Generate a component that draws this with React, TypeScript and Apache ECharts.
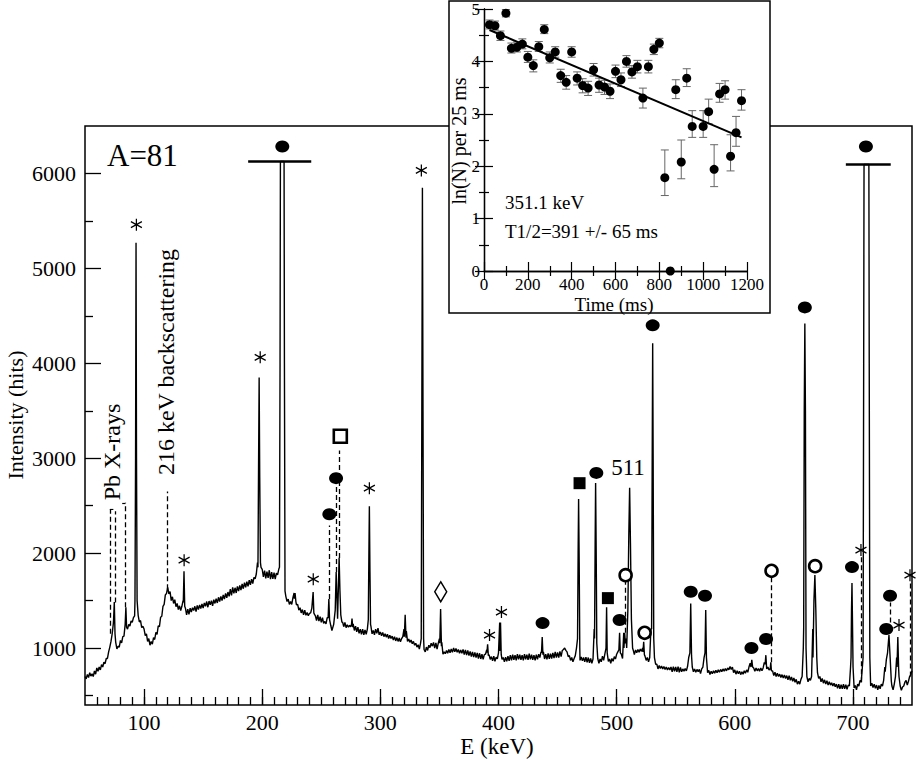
import React, { useEffect, useRef } from "react";
import * as echarts from "echarts";

const FONT = "Liberation Serif";

// ---------- main spectrum: baseline, 1 keV channels starting at 50 keV ----------
const baseStart = 50;
const base050 = [
  700, 675, 722, 690, 740, 705, 728, 700, 758, 725,
  790, 755, 800, 770, 825, 800, 850, 835, 890, 890,
  960, 1010, 1070, 1150, 1260, 1300, 1060, 990, 1020, 1010,
  1080, 1055, 1120, 1125, 1200, 1280, 1200, 1250, 1230, 1285,
  1270, 1320, 1340, 1400, 1380, 1345, 1275, 1290, 1215, 1230,
  1200, 1130, 1150, 1070, 1100, 1030, 1070, 1040, 1110, 1090,
  1165, 1145, 1235, 1225, 1325, 1335, 1440, 1460, 1560, 1575,
  1640, 1570, 1595, 1500, 1540, 1470, 1510, 1435, 1470, 1405,
  1445, 1395, 1440, 1500, 1700, 1420, 1350, 1410, 1355, 1420,
  1380, 1425, 1395, 1440, 1385, 1450, 1405, 1455, 1415, 1465,
];
const base150 = [
  1420, 1475, 1440, 1490, 1430, 1495, 1455, 1500, 1445, 1510,
  1470, 1520, 1475, 1535, 1490, 1545, 1500, 1560, 1515, 1575,
  1530, 1590, 1545, 1620, 1555, 1640, 1575, 1635, 1580, 1650,
  1600, 1660, 1610, 1675, 1625, 1690, 1640, 1700, 1650, 1715,
  1665, 1725, 1680, 1745, 1730, 1780, 1900, 3000, 2200, 1850,
  1830, 1750, 1815, 1735, 1805, 1740, 1820, 1725, 1800, 1730,
  1795, 1725, 1790, 1770, 1830, 3000, 6126, 6126, 3000, 1560,
  1545, 1490, 1515, 1460, 1490, 1460, 1530, 1580, 1520, 1455,
  1460, 1400, 1425, 1370, 1405, 1350, 1400, 1345, 1375, 1340,
  1365, 1370, 1420, 1590, 1360, 1340, 1290, 1350, 1285, 1330,
];
const base250 = [
  1270, 1320, 1260, 1280, 1255, 1320, 1480, 1350, 1240, 1185,
  1250, 1350, 1700, 1500, 1800, 1700, 1380, 1270, 1275, 1225,
  1270, 1215, 1245, 1220, 1240, 1225, 1310, 1255, 1185, 1230,
  1170, 1220, 1155, 1200, 1145, 1200, 1140, 1190, 1145, 1200,
  1300, 2400, 1230, 1150, 1185, 1140, 1200, 1155, 1210, 1140,
  1170, 1130, 1165, 1120, 1150, 1115, 1145, 1100, 1135, 1100,
  1125, 1085, 1120, 1075, 1110, 1070, 1105, 1065, 1100, 1120,
  1200, 1350, 1180, 1070, 1095, 1060, 1085, 1045, 1070, 1030,
  1050, 1010, 1035, 990, 1050, 3000, 3000, 985, 960, 1010,
  975, 1030, 1005, 1050, 1020, 1060, 1000, 1055, 990, 1050,
];
const base350 = [
  1100, 1400, 1060, 935, 960, 940, 975, 945, 985, 950,
  990, 955, 1000, 960, 995, 955, 985, 945, 980, 945,
  985, 930, 980, 925, 975, 920, 965, 910, 960, 905,
  955, 900, 950, 890, 945, 885, 935, 880, 930, 935,
  980, 1040, 930, 880, 910, 865, 915, 860, 905, 885,
  950, 1270, 960, 880, 900, 855, 905, 860, 915, 865,
  925, 870, 930, 875, 925, 870, 935, 880, 930, 875,
  925, 870, 935, 880, 930, 875, 940, 880, 930, 875,
  925, 870, 930, 880, 935, 900, 960, 1115, 960, 885,
  935, 880, 945, 885, 940, 890, 950, 895, 960, 900,
];
const base450 = [
  955, 900, 965, 910, 975, 985, 1000, 975, 960, 910,
  920, 870, 900, 855, 890, 920, 1000, 2000, 2000, 870,
  905, 865, 900, 855, 905, 850, 900, 845, 890, 840,
  885, 1200, 2740, 1100, 890, 840, 885, 855, 915, 870,
  935, 1430, 900, 860, 885, 840, 890, 860, 910, 885,
  935, 960, 1160, 960, 935, 890, 1160, 1000, 1100, 1500,
  1800, 2690, 1500, 1020, 980, 930, 980, 950, 985, 955,
  990, 965, 1000, 1065, 915, 870, 900, 855, 900, 1200,
  4000, 1200, 900, 830, 830, 780, 815, 785, 810, 780,
  805, 775, 800, 770, 795, 770, 800, 750, 805, 755,
];
const base550 = [
  800, 750, 805, 745, 795, 750, 780, 755, 785, 760,
  805, 900, 1300, 900, 800, 750, 780, 745, 775, 750,
  775, 730, 780, 800, 900, 1300, 850, 740, 765, 720,
  755, 730, 760, 735, 765, 740, 770, 745, 775, 750,
  780, 755, 785, 760, 790, 770, 805, 775, 800, 740,
  770, 725, 760, 730, 755, 720, 750, 725, 760, 735,
  770, 745, 800, 840, 875, 830, 790, 755, 790, 760,
  785, 755, 790, 760, 790, 850, 925, 780, 800, 770,
  850, 740, 760, 710, 745, 700, 735, 700, 725, 690,
  720, 685, 715, 680, 710, 665, 710, 660, 695, 650,
];
const base650 = [
  685, 640, 670, 620, 650, 620, 670, 700, 1000, 4000,
  900, 700, 645, 680, 660, 700, 1200, 1770, 1100, 750,
  740, 680, 700, 645, 680, 630, 665, 620, 655, 610,
  645, 610, 635, 600, 630, 592, 620, 575, 620, 570,
  615, 570, 620, 570, 615, 565, 610, 600, 800, 1685,
  800, 580, 605, 560, 620, 600, 660, 640, 800, 6095,
  6095, 6095, 6095, 6095, 650, 600, 630, 585, 620, 575,
  610, 560, 605, 570, 620, 600, 660, 800, 900, 950,
  1050, 1137, 850, 600, 560, 620, 700, 900, 1115, 700,
  600, 555, 590, 600, 640, 660, 610, 650, 700, 720,
  760,
];

// ---------- sharp peaks, [E keV, counts] ----------
const pk75 = [[74.2, 1300], [74.8, 1484], [75.4, 1150]];
const pk84 = [[84.0, 1250], [84.6, 1430], [85.2, 1220]];
const pk93 = [[92.3, 1500], [92.8, 3000], [93.2, 5270], [93.6, 3000], [94.1, 1500]];
const pk134 = [[133.2, 1480], [133.8, 1810], [134.4, 1440]];
const pk197 = [[196.4, 1850], [196.9, 2900], [197.4, 3850], [197.9, 2800], [198.5, 1900]];
const pk216 = [[214.6, 1850], [215.1, 4000], [215.4, 6126], [218.5, 6126], [218.8, 4000], [219.3, 1600]];
const pk228 = [[227.2, 1520], [227.8, 1580], [228.5, 1490]];
const pk243 = [[242.5, 1420], [243.1, 1590], [243.7, 1370]];
const pk256 = [[255.8, 1320], [256.4, 1516], [257.0, 1300]];
const pk263 = [[259.4, 1180], [260.5, 1250], [261.8, 1400], [262.6, 1800], [263.3, 1520], [263.8, 1310], [264.4, 1600], [265.1, 1950], [265.8, 1600], [266.5, 1350], [267.5, 1270]];
const pk276 = [[275.5, 1240], [276.0, 1310], [276.6, 1220]];
const pk290 = [[289.8, 1300], [290.3, 2000], [290.7, 2495], [291.2, 1800], [291.7, 1250]];
const pk321 = [[320.3, 1120], [321.0, 1350], [321.7, 1110]];
const pk335 = [[334.6, 1100], [335.1, 3500], [335.6, 5850], [336.1, 3500], [336.6, 1100]];
const pk351 = [[350.3, 1050], [351.0, 1410], [351.7, 1020]];
const pk390 = [[390.2, 950], [390.8, 1040], [391.4, 920]];
const pk401 = [[401.1, 970], [401.7, 1270], [402.3, 930]];
const pk437 = [[436.4, 950], [437.0, 1115], [437.6, 930]];
const pk467 = [[466.9, 1100], [467.4, 2000], [467.8, 2570], [468.3, 1900], [468.8, 1000]];
const pk482 = [[481.3, 1100], [481.8, 2100], [482.2, 2740], [482.7, 2000], [483.2, 1050]];
const pk491 = [[491.0, 1000], [491.5, 1430], [492.0, 950]];
const pk502 = [[501.9, 980], [502.5, 1160], [503.1, 950]];
const pk506 = [[506.2, 1000], [506.8, 1160], [507.4, 1050]];
const pk511 = [[508.5, 1000], [509.5, 1400], [510.3, 2200], [511.0, 2690], [511.7, 2100], [512.5, 1300], [513.5, 1000]];
const pk522 = [[522.3, 960], [522.9, 1065], [523.5, 930]];
const pk530 = [[529.6, 1200], [530.1, 3000], [530.5, 4210], [530.9, 3000], [531.4, 1100]];
const pk562 = [[562.0, 950], [562.7, 1470], [563.4, 920]];
const pk575 = [[574.8, 950], [575.4, 1400], [576.0, 900]];
const pk614 = [[613.7, 800], [614.4, 875], [615.1, 800]];
const pk626 = [[625.7, 830], [626.3, 925], [626.9, 800]];
const pk630 = [[630.0, 780], [630.5, 850], [631.0, 760]];
const pk659 = [[658.3, 1200], [658.8, 3500], [659.3, 4420], [659.8, 3500], [660.3, 1000]];
const pk667 = [[666.2, 900], [667.0, 1500], [667.8, 1770], [668.6, 1400], [669.4, 900]];
const pk699 = [[698.4, 900], [698.8, 1400], [699.2, 1685], [699.6, 1300], [700.1, 800]];
const pk712 = [[708.6, 900], [709.1, 4000], [709.4, 6095], [713.5, 6095], [713.8, 4000], [714.3, 900]];
const pk731 = [[727.3, 750], [728.3, 880], [729.3, 950], [730.5, 1137], [731.5, 900], [732.5, 650]];
const pk738 = [[737.3, 800], [738.0, 1115], [738.7, 780]];

// ---------- peak identification markers, [E keV, counts] ----------
const starMarks = [[93.5, 5460], [133.9, 1926], [198.3, 4063], [243.2, 1726], [290.7, 2684], [334.7, 6032], [392.4, 1137], [402.5, 1379], [706.8, 2032], [739.0, 1242], [748.3, 1768]];
const dotMarks = [[217.0, 6284], [256.8, 2410], [262.5, 2790], [437.3, 1263], [482.8, 2845], [502.5, 1295], [530.5, 4400], [562.7, 1593], [574.8, 1551], [614.1, 1000], [626.5, 1095], [659.3, 4589], [699.2, 1853], [728.2, 1200], [731.4, 1551], [711.0, 6284]];
const squareMarks = [[468.6, 2737], [492.6, 1526]];
const ringMarks = [[507.6, 1768], [523.7, 1161], [631.1, 1814], [668.0, 1863]];
const openSquareMarks = [[266.1, 3232]];
const diamondMarks = [[351.1, 1593]];

// dashed guide lines: [E, from counts, to counts]
const guideLines = [
  [71.0, 1150, 2460], [75.2, 1480, 2440], [84.2, 1430, 2530], [119.5, 1620, 2650],
  [256.8, 1516, 2290], [262.6, 1800, 2700], [265.3, 1950, 3080], [507.2, 1160, 1700],
  [630.6, 850, 1740], [706.8, 640, 1960], [731.2, 1270, 1480], [748.3, 700, 1700],
];
// horizontal bracket pieces: [E from, E to, counts]
const bracketLines = [[71.0, 74.0, 2460], [81.5, 84.2, 2530]];
// off-scale peak bars: [E from, E to, counts]
const cutBars = [[188.1, 241.5, 6126], [694.0, 732.0, 6095]];

const xTickLabels = [100, 200, 300, 400, 500, 600, 700];
const yTickLabels = [1000, 2000, 3000, 4000, 5000, 6000];

// ---------- inset: decay curve of the 351.1 keV line ----------
const insetTime = [25, 50, 75, 100, 125, 150, 175, 200, 225, 250, 275, 300, 325, 350, 375, 400, 425, 450, 475, 500, 525, 550, 575, 600, 625, 650, 675, 700, 725, 750, 775, 800, 825, 850, 875, 900, 925, 950, 1000, 1025, 1050, 1075, 1100, 1125, 1150, 1175];
const insetLnN = [4.70, 4.68, 4.49, 4.92, 4.25, 4.27, 4.33, 4.08, 3.92, 4.28, 4.61, 4.07, 4.18, 3.73, 3.60, 4.18, 3.68, 3.54, 3.49, 3.84, 3.55, 3.51, 3.43, 3.81, 3.65, 4.00, 3.80, 3.90, 3.30, 3.90, 4.23, 4.35, 1.78, 0.00, 3.46, 2.08, 3.68, 2.76, 2.76, 3.04, 1.94, 3.38, 3.46, 2.19, 2.64, 3.25];
const insetLow = [4.62, 4.60, 4.40, 4.85, 4.16, 4.18, 4.24, 3.98, 3.80, 4.19, 4.53, 3.97, 4.08, 3.60, 3.47, 4.08, 3.55, 3.40, 3.35, 3.72, 3.41, 3.37, 3.29, 3.69, 3.52, 3.89, 3.68, 3.78, 3.11, 3.78, 4.13, 4.26, 1.44, 0.00, 3.29, 1.76, 3.52, 2.55, 2.55, 2.81, 1.61, 3.22, 3.28, 1.91, 2.38, 3.07];
const insetHigh = [4.79, 4.77, 4.58, 4.99, 4.35, 4.37, 4.43, 4.19, 4.03, 4.38, 4.70, 4.18, 4.28, 3.85, 3.73, 4.28, 3.80, 3.67, 3.62, 3.96, 3.68, 3.64, 3.57, 3.93, 3.78, 4.11, 3.92, 4.02, 3.49, 4.02, 4.33, 4.44, 2.31, 0.00, 3.65, 2.50, 3.86, 3.06, 3.06, 3.28, 2.41, 3.58, 3.63, 2.60, 2.95, 3.46];
const fitTime = [25, 1175];
const fitLnN = [4.60, 2.55];

function buildSpectrum(): number[][] {
  const base = [...base050, ...base150, ...base250, ...base350, ...base450, ...base550, ...base650];
  let pts: number[][] = base.map((c, i) => [baseStart + i, c]);
  const peaks = [pk75, pk84, pk93, pk134, pk197, pk216, pk228, pk243, pk256, pk263, pk276, pk290, pk321, pk335, pk351, pk390, pk401, pk437, pk467, pk482, pk491, pk502, pk506, pk511, pk522, pk530, pk562, pk575, pk614, pk626, pk630, pk659, pk667, pk699, pk712, pk731, pk738];
  for (const p of peaks) {
    const a = p[0][0];
    const b = p[p.length - 1][0];
    pts = pts.filter(([e]) => e < a || e > b);
    pts.push(...p);
  }
  pts.sort((u, v) => u[0] - v[0]);
  return pts;
}

const black = "#000";
const axisFont = { fontFamily: FONT, color: black };
const plain = (v: number) => String(v);

export default function App() {
  const ref = useRef<HTMLDivElement>(null);
  useEffect(() => {
    if (!ref.current) return;
    const chart = echarts.init(ref.current, undefined, { renderer: "svg" });
    const spectrum = buildSpectrum();
    const xMinor: number[] = [];
    for (let v = 60; v < 750; v += 10) xMinor.push(v);
    const yMinor: number[] = [];
    for (let v = 500; v < 6500; v += 1000) yMinor.push(v);

    const insetPts = insetTime.map((t, i) => [t, insetLnN[i]]);
    const insetErr = insetTime
      .map((t, i) => [t, insetLow[i], insetHigh[i]])
      .filter((d) => d[2] > d[1]);
    const fitPts = fitTime.map((t, i) => [t, fitLnN[i]]);

    const star = "path://M0,-10L0,10M-8.66,-5L8.66,5M-8.66,5L8.66,-5";

    const insetAxisCommon = {
      axisLine: { show: true, lineStyle: { color: black, width: 1.3 } },
      splitLine: { show: false },
      axisTick: { show: true, inside: true, length: 9, lineStyle: { color: black, width: 1.2 } },
      minorTick: { show: true, splitNumber: 2, length: 5, lineStyle: { color: black, width: 1.2 } },
    };
    const txt = (text: string, x: number, y: number, size: number, z: number, opts: any = {}) => ({
      type: "text", z, x, y, rotation: opts.rotation || 0,
      style: { text, fontSize: size, fontFamily: FONT, fill: black, align: opts.align || "center", verticalAlign: "middle" },
    });

    const option: any = {
      animation: false,
      backgroundColor: "#fff",
      textStyle: { fontFamily: FONT },
      grid: [
        { left: 85, top: 126, width: 827, height: 579, show: true, borderColor: black, borderWidth: 1.5, backgroundColor: "transparent", containLabel: false, outerBoundsMode: "none" },
        { left: 484, top: 9, width: 263, height: 262, show: false, containLabel: false, outerBoundsMode: "none" },
      ],
      xAxis: [
        {
          type: "value", gridIndex: 0, min: 50, max: 750, position: "bottom",
          axisLine: { show: false }, splitLine: { show: false },
          axisTick: { show: true, inside: true, length: 16, customValues: xTickLabels, lineStyle: { color: black, width: 1.3 } },
          axisLabel: { show: true, customValues: xTickLabels, formatter: plain, fontSize: 22, margin: 6, ...axisFont },
        },
        {
          type: "value", gridIndex: 0, min: 50, max: 750, position: "bottom",
          axisLine: { show: false }, splitLine: { show: false }, axisLabel: { show: false },
          axisTick: { show: true, inside: true, length: 8, customValues: xMinor, lineStyle: { color: black, width: 1.3 } },
        },
        {
          type: "value", gridIndex: 1, min: 0, max: 1200, interval: 200, position: "bottom", z: 20,
          ...insetAxisCommon,
          axisLabel: { show: true, formatter: plain, fontSize: 17, margin: 5, ...axisFont },
        },
        {
          type: "value", gridIndex: 1, min: 0, max: 1200, interval: 200, position: "top", z: 20,
          ...insetAxisCommon,
          axisLabel: { show: false },
        },
      ],
      yAxis: [
        {
          type: "value", gridIndex: 0, min: 400, max: 6500, position: "left",
          axisLine: { show: false }, splitLine: { show: false },
          axisTick: { show: true, inside: true, length: 16, customValues: yTickLabels, lineStyle: { color: black, width: 1.3 } },
          axisLabel: { show: true, customValues: yTickLabels, formatter: plain, fontSize: 22, margin: 9, ...axisFont },
        },
        {
          type: "value", gridIndex: 0, min: 400, max: 6500, position: "left",
          axisLine: { show: false }, splitLine: { show: false }, axisLabel: { show: false },
          axisTick: { show: true, inside: true, length: 8, customValues: yMinor, lineStyle: { color: black, width: 1.3 } },
        },
        {
          type: "value", gridIndex: 1, min: 0, max: 5, interval: 1, position: "left", z: 20,
          ...insetAxisCommon,
          axisLabel: { show: true, formatter: plain, fontSize: 17, margin: 4, ...axisFont },
        },
        {
          type: "value", gridIndex: 1, min: 0, max: 5, interval: 1, position: "right", z: 20,
          ...insetAxisCommon,
          axisLabel: { show: false },
        },
      ],
      graphic: {
        elements: [
          { type: "rect", z: 10, shape: { x: 449, y: 1, width: 321, height: 312 }, style: { fill: "#fff", stroke: black, lineWidth: 1.5 } },
          txt("E (keV)", 497, 746, 23, 5),
          txt("Intensity (hits)", 15, 415, 22, 5, { rotation: Math.PI / 2 }),
          txt("A=81", 107, 155, 31, 5, { align: "left" }),
          txt("Pb X-rays", 112, 452, 24, 5, { rotation: Math.PI / 2 }),
          txt("216 keV backscattering", 166, 362, 24, 5, { rotation: Math.PI / 2 }),
          txt("511", 628, 467, 23, 5),
          txt("Time (ms)", 614, 304, 19, 30),
          txt("ln(N) per 25 ms", 459, 141, 20, 30, { rotation: Math.PI / 2 }),
          txt("351.1 keV", 505, 202, 19, 30, { align: "left" }),
          txt("T1/2=391 +/- 65 ms", 505, 231, 19, 30, { align: "left" }),
        ],
      },
      series: [
        {
          type: "line", xAxisIndex: 0, yAxisIndex: 0, data: spectrum, symbol: "none", showSymbol: false,
          lineStyle: { color: black, width: 1.4 }, z: 2, silent: true,
        },
        {
          type: "lines", coordinateSystem: "cartesian2d", xAxisIndex: 0, yAxisIndex: 0, z: 2, silent: true,
          lineStyle: { color: black, width: 1.3, type: [5, 3], opacity: 1 },
          data: guideLines.map(([e, a, b]) => ({ coords: [[e, a], [e, b]] })),
        },
        {
          type: "lines", coordinateSystem: "cartesian2d", xAxisIndex: 0, yAxisIndex: 0, z: 2, silent: true,
          lineStyle: { color: black, width: 1.2, opacity: 1 },
          data: bracketLines.map(([a, b, c]) => ({ coords: [[a, c], [b, c]] })),
        },
        {
          type: "lines", coordinateSystem: "cartesian2d", xAxisIndex: 0, yAxisIndex: 0, z: 3, silent: true,
          lineStyle: { color: black, width: 2.6, opacity: 1 },
          data: cutBars.map(([a, b, c]) => ({ coords: [[a, c], [b, c]] })),
        },
        {
          type: "scatter", xAxisIndex: 0, yAxisIndex: 0, z: 4, silent: true, data: starMarks,
          symbol: star, symbolSize: [11, 12], itemStyle: { color: "transparent", borderColor: black, borderWidth: 1.3, opacity: 1 },
        },
        {
          type: "scatter", xAxisIndex: 0, yAxisIndex: 0, z: 4, silent: true, data: dotMarks,
          symbol: "circle", symbolSize: [14, 12], itemStyle: { color: black, opacity: 1 },
        },
        {
          type: "scatter", xAxisIndex: 0, yAxisIndex: 0, z: 4, silent: true, data: squareMarks,
          symbol: "rect", symbolSize: 12, itemStyle: { color: black, opacity: 1 },
        },
        {
          type: "scatter", xAxisIndex: 0, yAxisIndex: 0, z: 4, silent: true, data: ringMarks,
          symbol: "circle", symbolSize: 12, itemStyle: { color: "#fff", borderColor: black, borderWidth: 2.6, opacity: 1 },
        },
        {
          type: "scatter", xAxisIndex: 0, yAxisIndex: 0, z: 4, silent: true, data: openSquareMarks,
          symbol: "rect", symbolSize: 13, itemStyle: { color: "#fff", borderColor: black, borderWidth: 2.6, opacity: 1 },
        },
        {
          type: "scatter", xAxisIndex: 0, yAxisIndex: 0, z: 4, silent: true, data: diamondMarks,
          symbol: "diamond", symbolSize: [12, 20], itemStyle: { color: "#fff", borderColor: black, borderWidth: 1.5, opacity: 1 },
        },
        // inset
        {
          type: "custom", xAxisIndex: 2, yAxisIndex: 2, z: 21, silent: true, data: insetErr,
          encode: { x: 0, y: [1, 2] },
          renderItem: (_p: any, api: any) => {
            const t = api.value(0);
            const lo = api.coord([t, api.value(1)]);
            const hi = api.coord([t, api.value(2)]);
            const w = 4;
            const st = { stroke: "#666", lineWidth: 1 };
            return {
              type: "group",
              children: [
                { type: "line", shape: { x1: lo[0], y1: lo[1], x2: hi[0], y2: hi[1] }, style: st },
                { type: "line", shape: { x1: lo[0] - w, y1: lo[1], x2: lo[0] + w, y2: lo[1] }, style: st },
                { type: "line", shape: { x1: hi[0] - w, y1: hi[1], x2: hi[0] + w, y2: hi[1] }, style: st },
              ],
            };
          },
        },
        {
          type: "line", xAxisIndex: 2, yAxisIndex: 2, z: 22, silent: true, data: fitPts,
          symbol: "none", showSymbol: false, lineStyle: { color: black, width: 2 },
        },
        {
          type: "scatter", xAxisIndex: 2, yAxisIndex: 2, z: 23, silent: true, data: insetPts, clip: false,
          symbol: "circle", symbolSize: 9, itemStyle: { color: black, opacity: 1 },
        },
      ],
    };
    chart.setOption(option);
    return () => chart.dispose();
  }, []);
  return <div ref={ref} style={{ position: "absolute", left: 0, top: 0, width: 918, height: 760 }} />;
}
